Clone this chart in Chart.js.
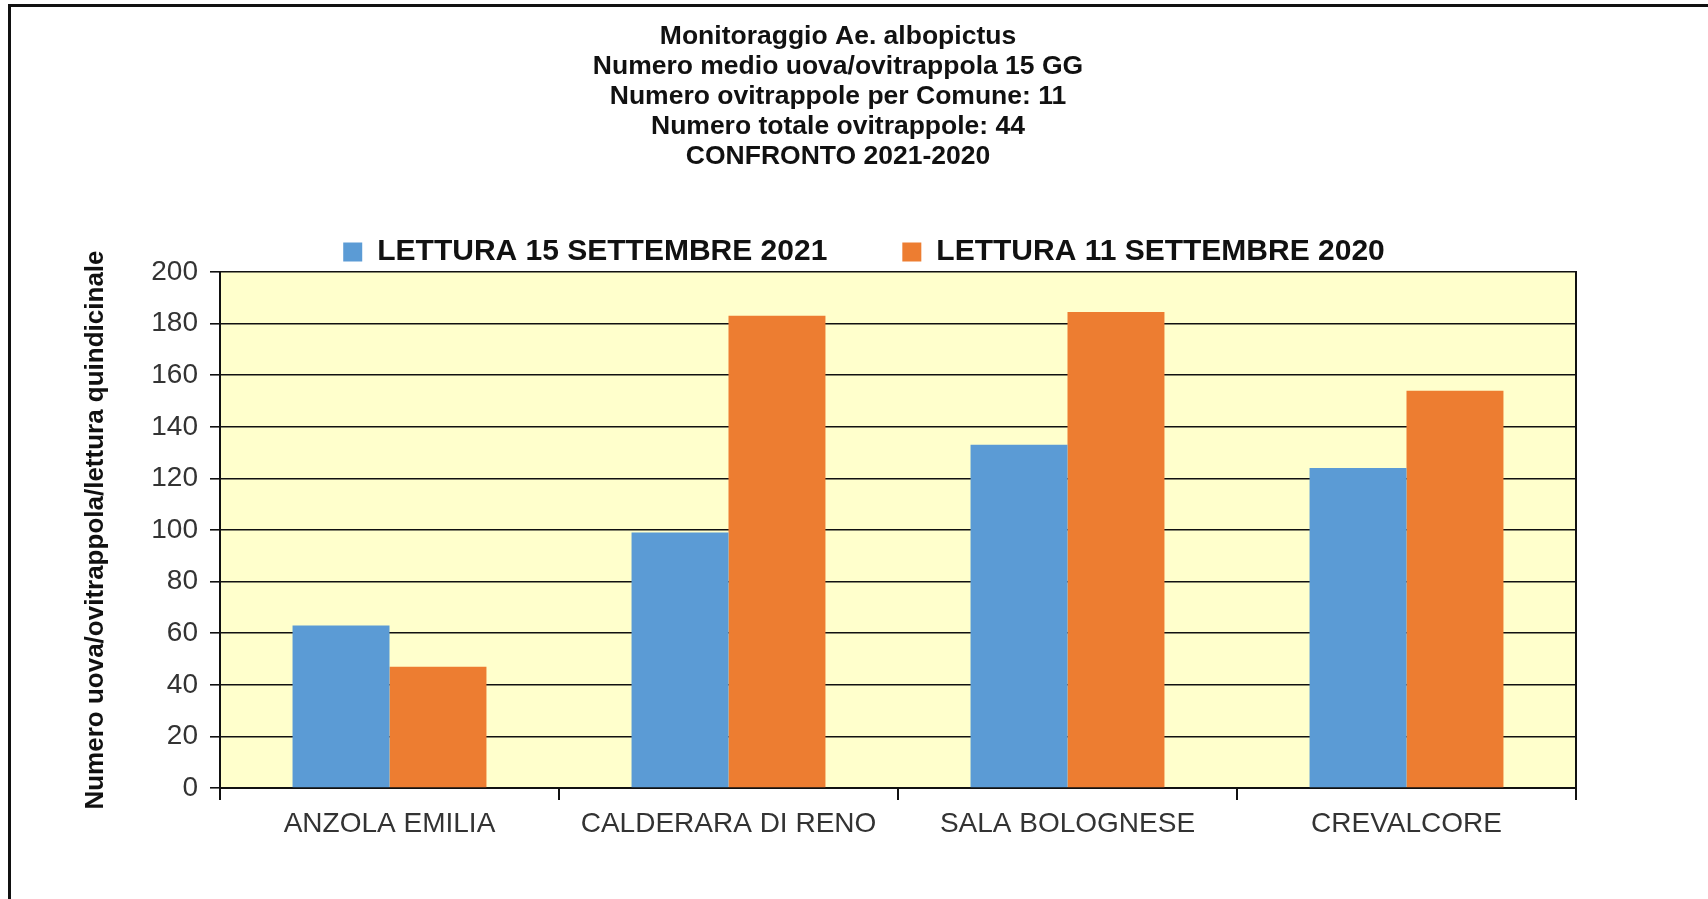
<!DOCTYPE html>
<html>
<head>
<meta charset="utf-8">
<script src="https://cdn.jsdelivr.net/npm/chart.js@4/dist/chart.umd.min.js"></script>
<style>
  html, body { margin: 0; padding: 0; background: #ffffff; }
  #wrap { position: relative; width: 1708px; height: 899px; overflow: hidden; }
  #frame { position: absolute; left: 8px; top: 4px; width: 1720px; height: 920px;
           border-top: 3px solid #111; border-left: 3px solid #111; box-sizing: border-box; }
  #c { position: absolute; left: 0; top: 0; }
</style>
</head>
<body>
<div id="wrap">
  <div id="frame"></div>
  <canvas id="c" width="1708" height="899"></canvas>
</div>
<script>
const categories = ['ANZOLA EMILIA', 'CALDERARA DI RENO', 'SALA BOLOGNESE', 'CREVALCORE'];
const seriesLabels = ['LETTURA 15 SETTEMBRE 2021', 'LETTURA 11 SETTEMBRE 2020'];
const values2021 = [63, 99, 133, 124];
const values2020 = [47, 183, 184.5, 154];
const titleLines = [
  'Monitoraggio Ae. albopictus',
  'Numero medio uova/ovitrappola 15 GG',
  'Numero ovitrappole per Comune: 11',
  'Numero totale ovitrappole: 44',
  'CONFRONTO 2021-2020'
];
const yAxisTitle = 'Numero uova/ovitrappola/lettura quindicinale';
const yMin = 0, yMax = 200, yStep = 20;

const FONT = "'Liberation Sans', Arial, Helvetica, sans-serif";

const plotBg = {
  id: 'plotBg',
  beforeDraw(chart) {
    const a = chart.chartArea, ctx = chart.ctx;
    ctx.save();
    ctx.fillStyle = '#FFFFCC';
    ctx.fillRect(a.left, a.top, a.right - a.left, a.bottom - a.top);
    ctx.restore();
  }
};
const legendShift = {
  id: 'legendShift',
  afterLayout(chart) {
    if (chart.legend) { chart.legend.left += 26; chart.legend.right += 26; }
  }
};

new Chart(document.getElementById('c'), {
  type: 'bar',
  data: {
    labels: categories,
    datasets: [
      { label: seriesLabels[0], data: values2021, backgroundColor: '#5B9BD5', borderWidth: 0 },
      { label: seriesLabels[1], data: values2020, backgroundColor: '#ED7D31', borderWidth: 0 }
    ]
  },
  options: {
    responsive: false,
    animation: false,
    devicePixelRatio: 1,
    layout: { padding: { left: 0, right: 32, top: 0, bottom: 0 } },
    datasets: { bar: { categoryPercentage: 0.572, barPercentage: 1.0 } },
    plugins: {
      title: {
        display: true,
        text: titleLines,
        color: '#111',
        font: { family: FONT, size: 26.5, weight: 'bold', lineHeight: 30/26.5 },
        padding: { top: 22, bottom: -10 }
      },
      legend: {
        display: true,
        position: 'top',
        maxHeight: 110,
        labels: {
          color: '#111',
          font: { family: FONT, size: 30, weight: 'bold' },
          boxWidth: 19,
          boxHeight: 19,
          padding: 75
        }
      },
      tooltip: { enabled: false }
    },
    scales: {
      x: {
        grid: { display: true, offset: true, drawOnChartArea: false, drawTicks: true,
                tickLength: 12, color: '#111', lineWidth: 2 },
        border: { display: true, color: '#111', width: 2 },
        ticks: { color: '#333', font: { family: FONT, size: 28 }, padding: 7, maxRotation: 0 },
        afterFit(s) { s.height = 111; }
      },
      y: {
        min: yMin, max: yMax,
        ticks: { stepSize: yStep, color: '#333', font: { family: FONT, size: 28 }, padding: 12 },
        grid: { color: '#111', lineWidth: 1.6, drawTicks: true, tickLength: 10 },
        border: { display: true, color: '#111', width: 2 },
        title: {
          display: true, text: yAxisTitle, color: '#111',
          font: { family: FONT, size: 26, weight: 'bold' },
          padding: { top: 80, bottom: 0 }
        },
        afterFit(s) { s.width = 220; }
      },
      y2: {
        position: 'right',
        display: true,
        grid: { display: false },
        ticks: { display: false },
        border: { display: true, color: '#111', width: 2 },
        afterFit(s) { s.width = 100; }
      }
    }
  },
  plugins: [plotBg, legendShift]
});
</script>
</body>
</html>
